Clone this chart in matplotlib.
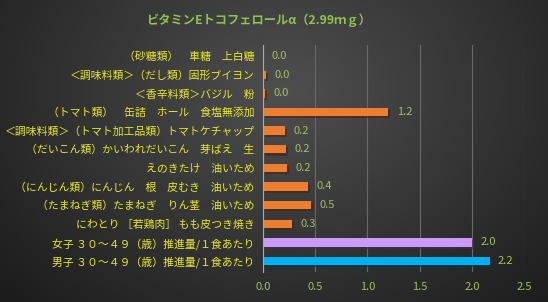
import numpy as np
import matplotlib.pyplot as plt
import matplotlib.patheffects as pe

plt.rcParams['font.family'] = ['Noto Sans CJK JP', 'DejaVu Sans']

title = 'ビタミンEトコフェロールα（2.99ｍｇ）'
labels = [
    '（砂糖類）　車糖　上白糖',
    '＜調味料類＞（だし類）固形ブイヨン',
    '＜香辛料類＞バジル　粉',
    '（トマト類）　缶詰　ホール　食塩無添加',
    '＜調味料類＞（トマト加工品類）トマトケチャップ',
    '（だいこん類）かいわれだいこん　芽ばえ　生',
    'えのきたけ　油いため',
    '（にんじん類）にんじん　根　皮むき　油いため',
    '（たまねぎ類）たまねぎ　りん茎　油いため',
    'にわとり ［若鶏肉］ もも皮つき焼き',
    '女子 ３０～４９（歳）推進量/１食あたり',
    '男子 ３０～４９（歳）推進量/１食あたり',
]
values = [0.0, 0.03, 0.02, 1.2, 0.21, 0.22, 0.23, 0.43, 0.46, 0.28, 2.0, 2.17]
colors = ['#ED7D31'] * 10 + ['#CC99FF', '#00B0F0']

fig = plt.figure(figsize=(5.48, 3.02), dpi=100)

# 背景グラデーション
bg = fig.add_axes([0, 0, 1, 1], zorder=-1)
yy, xx = np.mgrid[0:1:200j, 0:1:300j]
d = np.sqrt(((xx - 0.52) / 0.7) ** 2 + ((yy - 0.3) / 1.0) ** 2)
shade = np.clip(0.31 - 0.2 * d, 0.11, 0.32)
bg.imshow(np.dstack([shade] * 3), aspect='auto', extent=[0, 1, 0, 1])
bg.axis('off')

ax = fig.add_axes([263 / 548, 0.099, (524 - 263) / 548, 0.752])
ax.patch.set_alpha(0)
y = np.arange(len(labels))
bars = ax.barh(y, values, height=0.45, color=colors, zorder=3,
               path_effects=[pe.SimplePatchShadow(offset=(1.5, -1.5), alpha=0.6), pe.Normal()])
for yi, v in zip(y, values):
    ax.annotate(f'{v:.1f}', (v, yi), xytext=(6, 0), textcoords='offset points',
                va='center', ha='left', color='#A0C060', fontsize=8)

ax.set_xlim(0, 2.5)
ax.set_ylim(len(labels) - 0.4, -0.6)
ax.set_xticks([0, 0.5, 1.0, 1.5, 2.0, 2.5])
ax.set_xticklabels(['0.0', '0.5', '1.0', '1.5', '2.0', '2.5'])
ax.set_yticks(y)
ax.set_yticklabels(labels)
ax.tick_params(axis='x', colors='#A0C060', labelsize=8, length=0, pad=7)
ax.tick_params(axis='y', labelsize=7.8, length=0, pad=6)
for lab in ax.get_yticklabels():
    lab.set_color('#E8E830')
ax.grid(axis='x', color='#6a6a6a', linewidth=0.8, zorder=0)
for s in ['top', 'right', 'bottom']:
    ax.spines[s].set_visible(False)
ax.spines['left'].set_color('#aaaaaa')
ax.spines['left'].set_zorder(4)

fig.text(0.472, 0.934, title, ha='center', va='center', color='#8FC050',
         fontsize=8.8, fontweight='bold')

fig.savefig('out.png', dpi=100)
